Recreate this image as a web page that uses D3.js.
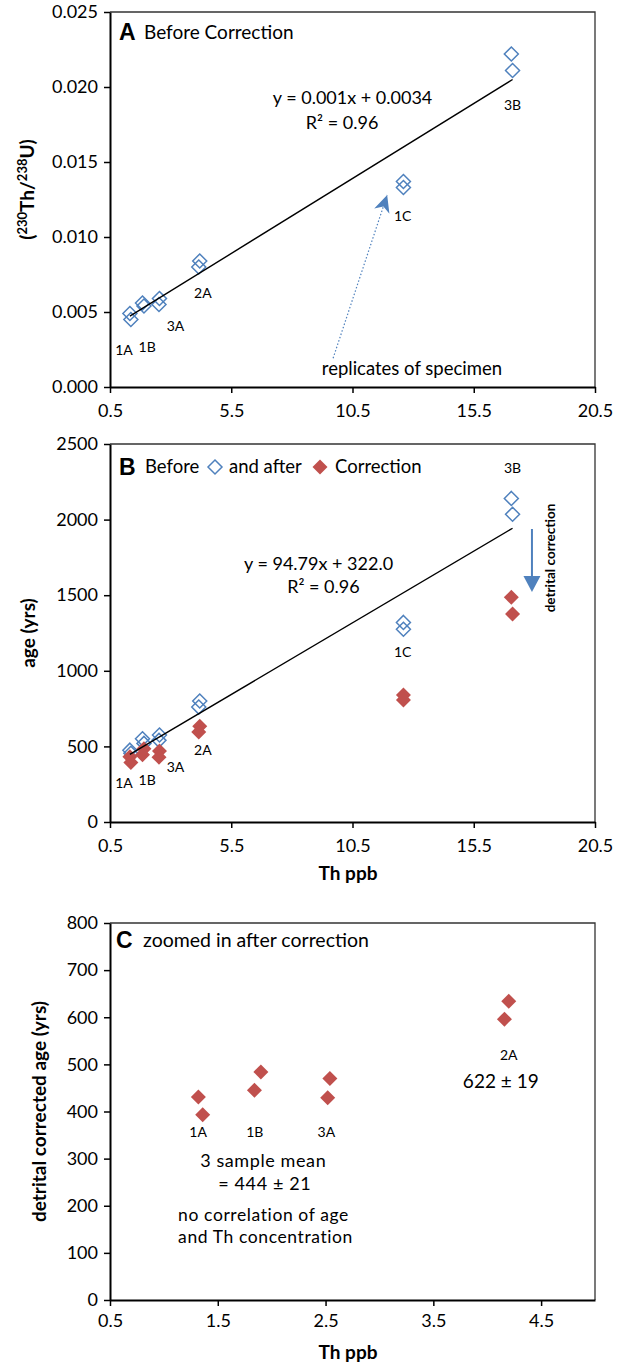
<!DOCTYPE html>
<html>
<head>
<meta charset="utf-8">
<script src="https://cdn.jsdelivr.net/npm/d3@7"></script>
<style>
  body { margin: 0; background: #fff; }
  text { font-family: Lato, "Noto Sans", sans-serif; fill: #000; }
  .letter { font-family: "Liberation Sans", Arial, sans-serif; font-weight: bold; }
</style>
</head>
<body>
<script>
// values (two replicates per specimen)
const samples = ['1A', '1A', '1B', '1B', '3A', '3A', '2A', '2A', '1C', '1C', '3B', '3B'];
const thPpb = [1.32, 1.36, 1.84, 1.90, 2.54, 2.52, 4.20, 4.16, 12.6, 12.6, 17.05, 17.1];
const thU = [0.0049, 0.0045, 0.0056, 0.0054, 0.0059, 0.0055, 0.0084, 0.0080, 0.0137, 0.0133, 0.0222, 0.0211];
const ageBefore = [475, 455, 550, 520, 575, 540, 800, 760, 1320, 1275, 2140, 2035];
const ageAfter = [431, 393, 445, 484, 470, 429, 634, 596, 840, 807, 1486, 1376];

// regression shown in A and B
const fitA = { slope: 0.001, intercept: 0.0034, eq: 'y = 0.001x + 0.0034', r2: 'R² = 0.96' };
const fitB = { slope: 94.79, intercept: 322.0, eq: 'y = 94.79x + 322.0', r2: 'R² = 0.96' };

const xTicksAB = [0.5, 5.5, 10.5, 15.5, 20.5];
const xTicksC = [0.5, 1.5, 2.5, 3.5, 4.5];
const yTicksA = [0, 0.005, 0.01, 0.015, 0.02, 0.025];
const yTicksB = [0, 500, 1000, 1500, 2000, 2500];
const yTicksC = [0, 100, 200, 300, 400, 500, 600, 700, 800];

// sample label anchors, in data units
const labelsA = [['1A', 1.08, 0.00245], ['1B', 2.03, 0.00269], ['3A', 3.2, 0.00408], ['2A', 4.33, 0.00627], ['1C', 12.57, 0.01137], ['3B', 17.1, 0.01877]];
const labelsB = [['1A', 1.08, 255], ['1B', 2.03, 278], ['3A', 3.2, 364], ['2A', 4.33, 473], ['1C', 12.57, 1121], ['3B', 17.1, 2338]];
const labelsC = [['1A', 1.318, 356], ['1B', 1.843, 356], ['3A', 2.508, 356], ['2A', 4.2, 520]];

const width = 620, height = 1362;
const left = 110, right = 595;
const blue = '#4F81BD', red = '#C0504D';

const svg = d3.select('body').append('svg')
  .attr('width', width)
  .attr('height', height);

const diamond = r => `M0,${-r}L${r},0L0,${r}L${-r},0Z`;

function drawAxes(x, y, xTicks, yTicks, yFmt, xPad) {
  const [y0, y1] = y.range();
  // thin frame top and right
  svg.append('path')
    .attr('d', `M${left},${y1}H${right}V${y0}`)
    .attr('fill', 'none')
    .attr('stroke', '#333')
    .attr('stroke-width', 1.3);

  const gx = svg.append('g')
    .attr('transform', `translate(0,${y0})`)
    .call(d3.axisBottom(x).tickValues(xTicks).tickFormat(d3.format('.1f'))
      .tickSize(6).tickSizeOuter(0).tickPadding(xPad));
  const gy = svg.append('g')
    .attr('transform', `translate(${left},0)`)
    .call(d3.axisLeft(y).tickValues(yTicks).tickFormat(yFmt)
      .tickSize(6).tickSizeOuter(0).tickPadding(6));

  [gx, gy].forEach(g => {
    g.select('.domain').attr('stroke', '#000').attr('stroke-width', 2);
    g.selectAll('.tick line').attr('stroke', '#000').attr('stroke-width', 1.5);
    g.selectAll('.tick text').style('font-size', '18px').style('font-family', 'Lato');
  });
}

function text(x, y, s, size, anchor, weight) {
  return svg.append('text')
    .attr('x', x).attr('y', y)
    .attr('dy', '0.35em')
    .attr('text-anchor', anchor || 'middle')
    .style('font-size', size + 'px')
    .style('font-weight', weight || 'normal')
    .text(s);
}

function sampleLabels(x, y, list) {
  list.forEach(d => text(x(d[1]), y(d[2]), d[0], 14));
}

function trend(x, y, fit) {
  const ext = d3.extent(thPpb);
  svg.append('line')
    .attr('x1', x(ext[0])).attr('y1', y(fit.slope * ext[0] + fit.intercept))
    .attr('x2', x(ext[1])).attr('y2', y(fit.slope * ext[1] + fit.intercept))
    .attr('stroke', '#000')
    .attr('stroke-width', 1.4);
}

function openDiamonds(x, y, vals) {
  svg.append('g').selectAll('path')
    .data(thPpb)
    .join('path')
    .attr('d', diamond(7))
    .attr('transform', (d, i) => `translate(${x(d)},${y(vals[i])})`)
    .attr('fill', 'none')
    .attr('stroke', blue)
    .attr('stroke-width', 1.5);
}

function filledDiamonds(x, y, xs, vals) {
  svg.append('g').selectAll('path')
    .data(xs)
    .join('path')
    .attr('d', diamond(7.5))
    .attr('transform', (d, i) => `translate(${x(d)},${y(vals[i])})`)
    .attr('fill', red);
}

// ---------- panel A ----------
const xA = d3.scaleLinear().domain([0.5, 20.5]).range([left, right]);
const yA = d3.scaleLinear().domain([0, 0.025]).range([387, 12]);
drawAxes(xA, yA, xTicksAB, yTicksA, d3.format('.3f'), 11);
openDiamonds(xA, yA, thU);
trend(xA, yA, fitA);
sampleLabels(xA, yA, labelsA);
text(xA(10.5), yA(0.01926), fitA.eq, 18);
text(xA(10.07), yA(0.0176), fitA.r2, 18);
svg.append('text').attr('class', 'letter').attr('x', 119).attr('y', 32).attr('dy', '0.35em')
  .style('font-size', '23px').text('A');
text(144, 32, 'Before Correction', 19, 'start');
text(xA(12.95), yA(0.00123), 'replicates of specimen', 18.5);

// dotted pointer to replicates
const p0 = [xA(9.7), yA(0.00192)], p1 = [xA(11.93), yA(0.0128)];
svg.append('line')
  .attr('x1', p0[0]).attr('y1', p0[1]).attr('x2', p1[0]).attr('y2', p1[1])
  .attr('stroke', blue).attr('stroke-width', 1.2).attr('stroke-dasharray', '1.5,2');
const ang = Math.atan2(p1[1] - p0[1], p1[0] - p0[0]) * 180 / Math.PI;
svg.append('path')
  .attr('d', 'M0,0L-17,-8L-12,0L-17,8Z')
  .attr('transform', `translate(${p1[0]},${p1[1]}) rotate(${ang})`)
  .attr('fill', blue);

// y title with superscripts
const tA = svg.append('text')
  .attr('transform', `translate(27,${(yA(0) + yA(0.025)) / 2 - 10}) rotate(-90)`)
  .attr('text-anchor', 'middle')
  .attr('dy', '0.35em')
  .style('font-size', '19px').style('font-weight', 'bold');
tA.append('tspan').text('(');
tA.append('tspan').attr('dy', -7).style('font-size', '13px').text('230');
tA.append('tspan').attr('dy', 7).text('Th/');
tA.append('tspan').attr('dy', -7).style('font-size', '13px').text('238');
tA.append('tspan').attr('dy', 7).text('U)');

// ---------- panel B ----------
const xB = d3.scaleLinear().domain([0.5, 20.5]).range([left, right]);
const yB = d3.scaleLinear().domain([0, 2500]).range([822, 444]);
drawAxes(xB, yB, xTicksAB, yTicksB, d3.format('d'), 11);
openDiamonds(xB, yB, ageBefore);
filledDiamonds(xB, yB, thPpb, ageAfter);
trend(xB, yB, fitB);
sampleLabels(xB, yB, labelsB);
text(xB(9.1), yB(1710), fitB.eq, 18);
text(xB(9.3), yB(1557), fitB.r2, 18);

const legY = 467;
svg.append('text').attr('class', 'letter').attr('x', 119).attr('y', legY).attr('dy', '0.35em')
  .style('font-size', '23px').text('B');
text(145, legY, 'Before', 18.5, 'start');
svg.append('path').attr('d', diamond(7)).attr('transform', `translate(215,${legY})`)
  .attr('fill', 'none').attr('stroke', blue).attr('stroke-width', 1.5);
text(229, legY, 'and after', 18.5, 'start');
svg.append('path').attr('d', diamond(7.5)).attr('transform', `translate(320,${legY})`).attr('fill', red);
text(335, legY, 'Correction', 18.5, 'start');

// detrital correction arrow
const ax = xB(17.9);
svg.append('line')
  .attr('x1', ax).attr('y1', yB(1938)).attr('x2', ax).attr('y2', yB(1600))
  .attr('stroke', blue).attr('stroke-width', 2);
svg.append('path')
  .attr('d', `M${ax},${yB(1521)}L${ax - 8.5},${yB(1521) - 16}L${ax + 8.5},${yB(1521) - 16}Z`)
  .attr('fill', blue);
svg.append('text')
  .attr('transform', `translate(${xB(18.64)},${yB(1746)}) rotate(-90)`)
  .attr('text-anchor', 'middle').attr('dy', '0.35em')
  .style('font-size', '13.5px').style('font-weight', 'bold')
  .text('detrital correction');

svg.append('text')
  .attr('transform', `translate(28,${(yB(0) + yB(2500)) / 2}) rotate(-90)`)
  .attr('text-anchor', 'middle').attr('dy', '0.35em')
  .style('font-size', '19px').style('font-weight', 'bold')
  .text('age (yrs)');
text(348, 873, 'Th ppb', 19, 'middle', 'bold');

// ---------- panel C ----------
const xC = d3.scaleLinear().domain([0.5, 5.0]).range([left, right]);
const yC = d3.scaleLinear().domain([0, 800]).range([1300, 923]);
drawAxes(xC, yC, xTicksC, yTicksC, d3.format('d'), 8);
const inC = thPpb.map((d, i) => i).filter(i => thPpb[i] < 5);
filledDiamonds(xC, yC, inC.map(i => thPpb[i]), inC.map(i => ageAfter[i]));
sampleLabels(xC, yC, labelsC);
svg.append('text').attr('class', 'letter').attr('x', 116).attr('y', 940).attr('dy', '0.35em')
  .style('font-size', '23px').text('C');
text(143, 940, 'zoomed in after correction', 19.5, 'start');
text(xC(4.126), yC(464), '622 ± 19', 19);
text(xC(1.922), yC(295), '3 sample mean', 18).style('letter-spacing', '0.6px');
text(xC(1.936), yC(246), '= 444 ± 21', 18).style('letter-spacing', '0.6px');
text(xC(1.132), yC(180), 'no correlation of age', 17.5, 'start').style('letter-spacing', '0.6px');
text(xC(1.132), yC(134), 'and Th concentration', 17.5, 'start').style('letter-spacing', '0.6px');

svg.append('text')
  .attr('transform', `translate(39,${(yC(0) + yC(800)) / 2}) rotate(-90)`)
  .attr('text-anchor', 'middle').attr('dy', '0.35em')
  .style('font-size', '19px').style('font-weight', 'bold')
  .text('detrital corrected age (yrs)');
text(348, 1352, 'Th ppb', 19, 'middle', 'bold');
</script>
</body>
</html>
